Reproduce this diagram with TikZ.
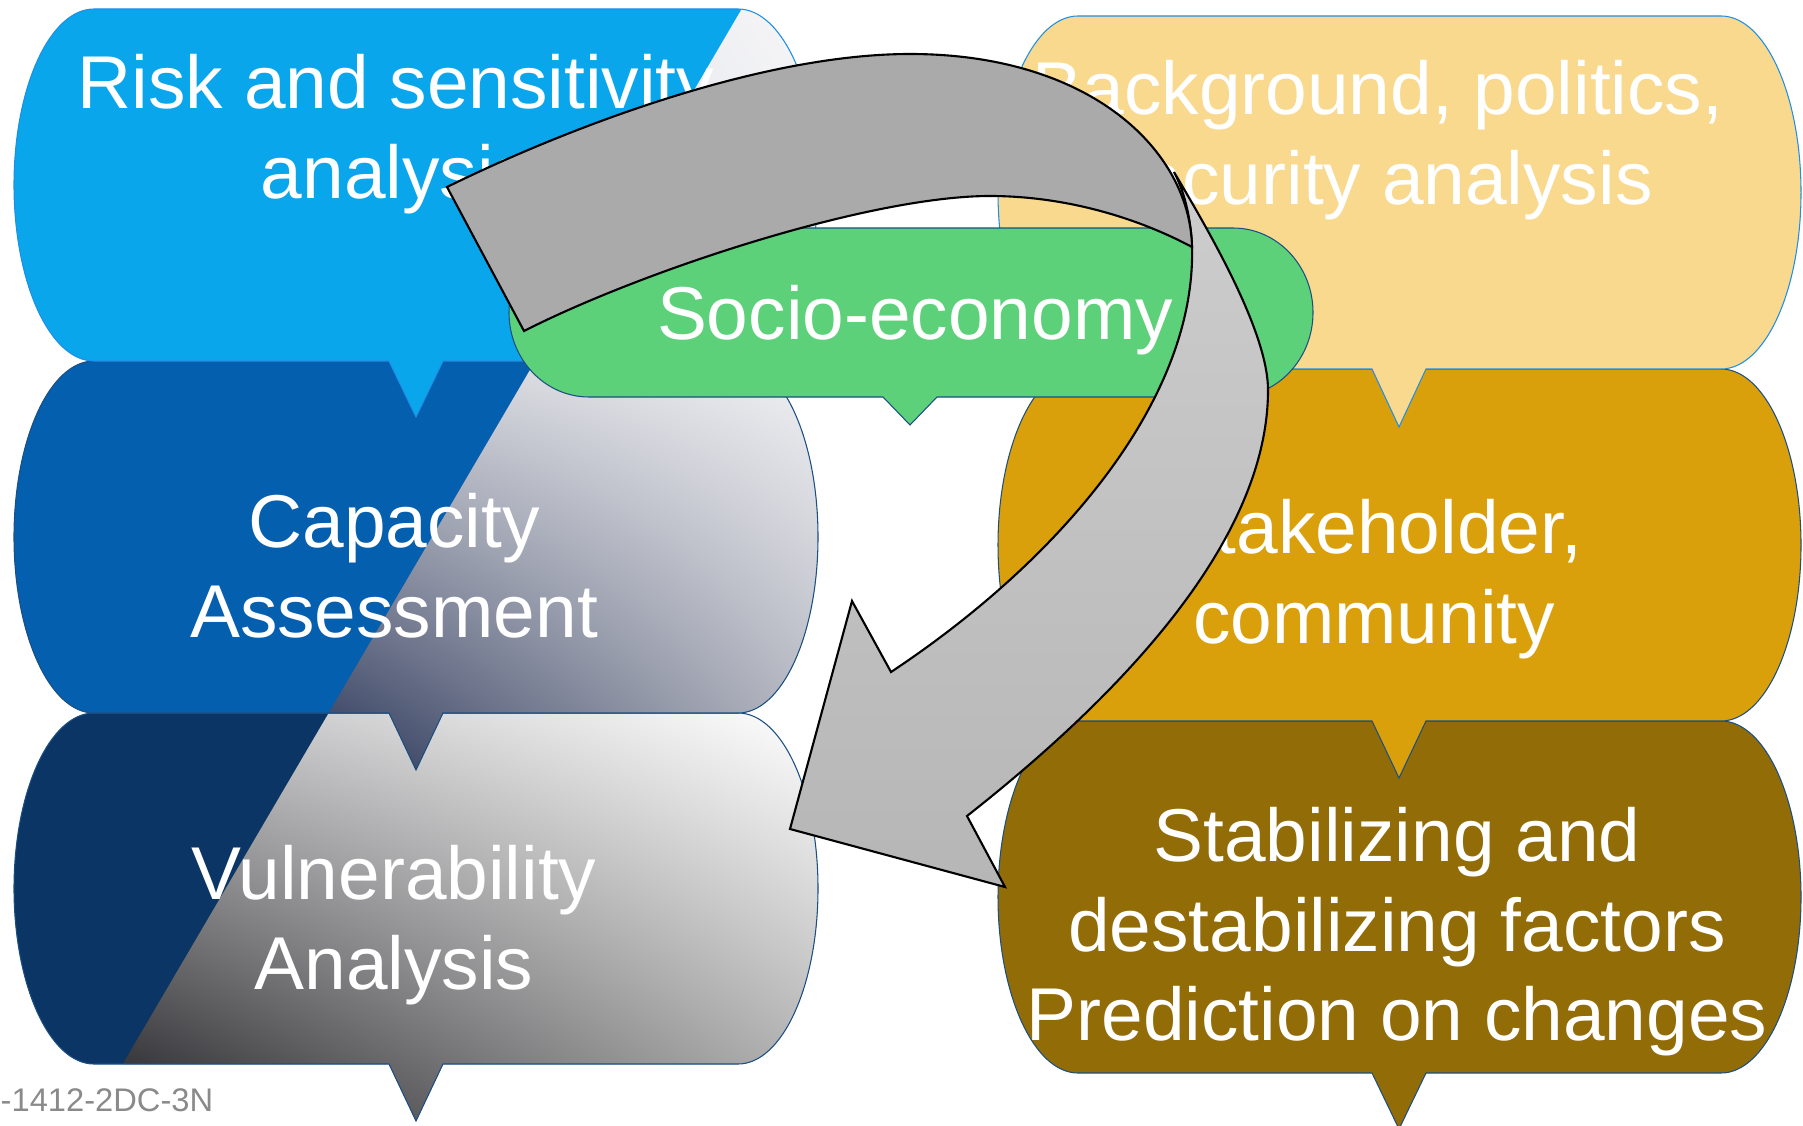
\documentclass[tikz,border=0pt]{standalone}
\usepackage{fontspec}
\setmainfont{Liberation Sans}
\usetikzlibrary{shadings}

\definecolor{riskblue}{RGB}{10,166,236}
\definecolor{capblue}{RGB}{5,95,175}
\definecolor{vulnblue}{RGB}{10,53,100}
\definecolor{bgyellow}{RGB}{248,217,142}
\definecolor{stakegold}{RGB}{217,160,11}
\definecolor{stabbrown}{RGB}{146,108,7}
\definecolor{socgreen}{RGB}{92,209,122}
\definecolor{brightline}{RGB}{30,143,230}
\definecolor{darkline}{RGB}{27,79,130}
\definecolor{arrowdark}{RGB}{170,170,170}
\definecolor{arrowhi}{RGB}{205,205,205}
\definecolor{arrowlo}{RGB}{182,182,182}
\definecolor{refgray}{RGB}{138,138,138}
\definecolor{vulnUL}{RGB}{189,189,191}
\definecolor{vulnLL}{RGB}{30,30,34}
\definecolor{vulnLR}{RGB}{168,168,168}
\definecolor{capUL}{RGB}{207,209,215}
\definecolor{capUR}{RGB}{242,242,245}
\definecolor{capLL}{RGB}{42,53,88}
\definecolor{capLR}{RGB}{174,177,187}
\definecolor{riskUL}{RGB}{230,231,235}
\definecolor{riskUR}{RGB}{247,247,249}
\definecolor{riskLL}{RGB}{213,215,221}
\definecolor{riskLR}{RGB}{233,234,238}

% callout body: left, top, right, bottom, tail x, tail height (pixels, y downwards)
\newcommand{\bubblepath}[6]{(#1+80,-#2) -- (#3-80,-#2) arc[start angle=90, end angle=-90, x radius=80, y radius={(#4-#2)/2}] -- (#5+27,-#4) -- (#5,-#4-#6) -- (#5-27,-#4) -- (#1+80,-#4) arc[start angle=270, end angle=90, x radius=80, y radius={(#4-#2)/2}] -- cycle}

\begin{document}
\begin{tikzpicture}[x=0.1mm, y=0.1mm]
	\tikzstyle{every node}+=[inner sep=0pt]
	\tikzstyle{boxtext}=[text=white, align=center, font=\fontsize{21.3}{25.5}\selectfont]
	\useasboundingbox (0,0) rectangle (1803,-1125);
	% left column, bottom up
	\fill [vulnblue] \bubblepath{14}{713}{818}{1064}{416}{57};
	\begin{scope}
		\clip (747,0) -- (1803,0) -- (1803,-1125) -- (87,-1125) -- cycle;
		\clip \bubblepath{14}{713}{818}{1064}{416}{57};
		\shade [upper left=vulnUL, upper right=white, lower left=vulnLL, lower right=vulnLR]
			(110,-713) rectangle (818,-1125);
	\end{scope}
	\draw [darkline, line width=0.3pt] \bubblepath{14}{713}{818}{1064}{416}{57};
	\fill [capblue] \bubblepath{14}{361}{818}{713}{416}{57};
	\begin{scope}
		\clip (747,0) -- (1803,0) -- (1803,-1125) -- (87,-1125) -- cycle;
		\clip \bubblepath{14}{361}{818}{713}{416}{57};
		\shade [upper left=capUL, upper right=capUR, lower left=capLL, lower right=capLR]
			(320,-361) rectangle (818,-770);
	\end{scope}
	\draw [darkline, line width=0.3pt] \bubblepath{14}{361}{818}{713}{416}{57};
	\fill [riskblue] \bubblepath{14}{9}{818}{361}{416}{56};
	\begin{scope}
		\clip (747,0) -- (1803,0) -- (1803,-1125) -- (87,-1125) -- cycle;
		\clip \bubblepath{14}{9}{818}{361}{416}{56};
		\shade [upper left=riskUL, upper right=riskUR, lower left=riskLL, lower right=riskLR]
			(530,-9) rectangle (818,-361);
	\end{scope}
	\draw [brightline, line width=0.3pt] \bubblepath{14}{9}{818}{361}{416}{56};
	% right column, bottom up
	\filldraw [fill=stabbrown, draw=darkline, line width=0.3pt] \bubblepath{998}{721}{1801}{1073}{1399}{56};
	\filldraw [fill=stakegold, draw=darkline, line width=0.3pt] \bubblepath{998}{369}{1801}{721}{1399}{57};
	\filldraw [fill=bgyellow, draw=brightline, line width=0.3pt] \bubblepath{998}{16}{1801}{369}{1399}{58};
	% middle
	\filldraw [fill=socgreen, draw=darkline, line width=0.3pt] \bubblepath{509}{228}{1313}{397}{910}{28};
	% texts
	\node (risk) [boxtext] at (396,-134) {Risk and sensitivity\\analysis};
	\node (capacity) [boxtext] at (394,-566) {Capacity\\Assessment};
	\node (vulnerability) [boxtext] at (394,-925) {Vulnerability\\Analysis};
	\node (background) [boxtext] at (1378,-140) {Background, politics,\\security analysis};
	\node (stakeholder) [boxtext] at (1374,-579) {Stakeholder,\\community};
	\node (factors) [boxtext] at (1397,-932) {Stabilizing and\\destabilizing factors\\Prediction on changes};
	\node (socio) [boxtext] at (915,-320) {Socio-economy};
	% turning arrow, front part
	\shadedraw [top color=arrowhi, bottom color=arrowlo, draw=black, line width=0.6pt]
		(1174,-172) .. controls (1186,-195) and (1191,-222) .. (1192,-247)
		.. controls (1196,-400) and (1060,-560) .. (891,-672)
		-- (852,-601) -- (790,-829) -- (1005,-887) -- (967,-816)
		.. controls (1150,-672) and (1268,-525) .. (1268,-390)
		.. controls (1268,-330) and (1205,-225) .. (1174,-172) -- cycle;
	% turning arrow, back part
	\filldraw [fill=arrowdark, draw=black, line width=0.6pt]
		(447,-187) .. controls (567,-128) and (760,-54) .. (910,-54)
		.. controls (1090,-54) and (1190,-150) .. (1192,-247)
		.. controls (1132,-215) and (1060,-196) .. (990,-196)
		.. controls (870,-196) and (644,-270) .. (524,-331) -- cycle;
	\node (ref) [anchor=base west, text=refgray, font=\fontsize{9.3}{11}\selectfont] at (0,-1111) {-1412-2DC-3N};
\end{tikzpicture}
\end{document}
